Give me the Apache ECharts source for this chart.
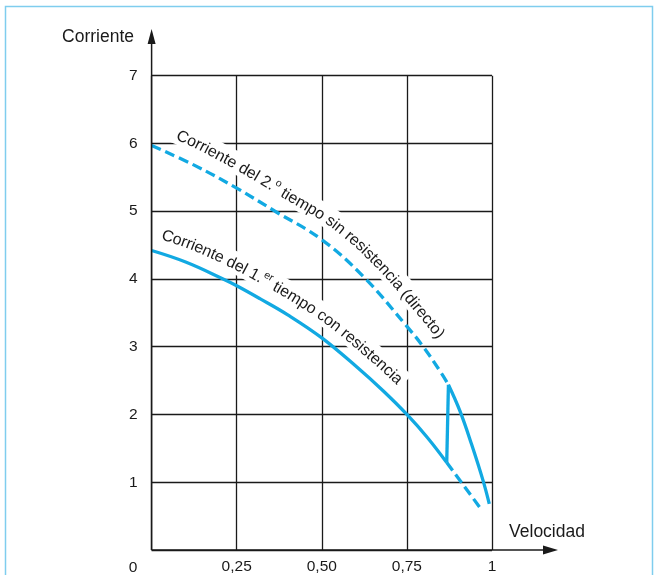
<!DOCTYPE html>
<html><head><meta charset="utf-8">
<script src="https://cdn.jsdelivr.net/npm/echarts@6/dist/echarts.min.js"></script>
<style>html,body{margin:0;padding:0;background:#fff}#c{width:658px;height:575px}</style>
</head><body><div id="c"></div>
<script>
// ---- data ----
const xTicks = [0, 0.25, 0.5, 0.75, 1];
const xTickLabels = ['0', '0,25', '0,50', '0,75', '1'];
const yTicks = [0, 1, 2, 3, 4, 5, 6, 7];
const yTickLabels = ['0', '1', '2', '3', '4', '5', '6', '7'];
const xName = 'Velocidad';
const yName = 'Corriente';
// Corriente del 1.er tiempo con resistencia (solid)
const curve1X = [0, 0.1, 0.21, 0.25, 0.318, 0.4, 0.5, 0.603, 0.68, 0.75, 0.81, 0.867];
const curve1Y = [4.42, 4.25, 4.0, 3.9, 3.71, 3.47, 3.13, 2.70, 2.35, 2.0, 1.66, 1.29];
// continuation of curve 1 (dashed)
const curve1ExtX = [0.867, 0.92, 0.967];
const curve1ExtY = [1.29, 0.93, 0.61];
// switching step (solid)
const jumpX = [0.867, 0.872];
const jumpY = [1.29, 2.44];
// Corriente del 2.º tiempo sin resistencia (dashed part)
const curve2X = [0, 0.125, 0.25, 0.3625, 0.5, 0.625, 0.75, 0.798, 0.85, 0.872];
const curve2Y = [5.97, 5.68, 5.34, 5.0, 4.58, 4.02, 3.30, 3.0, 2.62, 2.44];
// 2nd time after switching (solid)
const curve2EndX = [0.872, 0.906, 0.94, 0.974, 0.992];
const curve2EndY = [2.44, 2.05, 1.56, 1.02, 0.68];
// curve labels: [text, superscript?]
const label1Parts = [['Corriente del 2.', false], ['o', true], [' tiempo sin resistencia (directo)', false]];
const label2Parts = [['Corriente del 1.', false], ['er', true], [' tiempo con resistencia', false]];

const BLUE = '#12a9e2';
const INK = '#1a1a1a';
const FONT = '"Liberation Sans", Arial, sans-serif';

const chart = echarts.init(document.getElementById('c'), null, {renderer: 'canvas'});
const zip = (xs, ys) => xs.map((x, i) => [x, ys[i]]);

chart.setOption({
  animation: false,
  backgroundColor: '#fff',
  grid: {left: 151.6, top: 75.7, right: 166, bottom: 24, containLabel: false},
  xAxis: {
    type: 'value', min: 0, max: 1, interval: 0.25,
    axisLine: {show: false}, axisTick: {show: false},
    splitLine: {show: true, lineStyle: {color: INK, width: 1.3}},
    axisLabel: {
      margin: 9, color: INK, fontSize: 15.5, fontFamily: FONT,
      formatter: v => { const i = xTicks.findIndex(t => Math.abs(t - v) < 1e-9); return i > 0 ? xTickLabels[i] : ''; }
    }
  },
  yAxis: {
    type: 'value', min: 0, max: 7, interval: 1,
    axisLine: {show: false}, axisTick: {show: false},
    splitLine: {show: true, lineStyle: {color: INK, width: 1.3}},
    axisLabel: {
      margin: 14, color: INK, fontSize: 15.5, fontFamily: FONT,
      formatter: v => { const i = yTicks.indexOf(v); return i > 0 ? yTickLabels[i] : ''; }
    }
  },
  series: [
    {type: 'line', data: zip(curve1X, curve1Y), smooth: 0.4, symbol: 'none', lineStyle: {color: BLUE, width: 3.3}, z: 3},
    {type: 'line', data: zip(curve1ExtX, curve1ExtY), smooth: 0.4, symbol: 'none', lineStyle: {color: BLUE, width: 3.3, type: [10, 5]}, z: 3},
    {type: 'line', data: zip(jumpX, jumpY), smooth: false, symbol: 'none', lineStyle: {color: BLUE, width: 3.3}, z: 3},
    {type: 'line', data: zip(curve2X, curve2Y), smooth: 0.4, symbol: 'none', lineStyle: {color: BLUE, width: 3.3, type: [10, 5]}, z: 3},
    {type: 'line', data: zip(curve2EndX, curve2EndY), smooth: 0.4, symbol: 'none', lineStyle: {color: BLUE, width: 3.3}, z: 3}
  ]
});

// ---- helpers for text along a curve ----
const px = (x, y) => chart.convertToPixel({gridIndex: 0}, [x, y]);
function buildPath(xs, ys) {
  const p = xs.map((x, i) => px(x, ys[i]));
  const out = [];
  for (let i = 0; i < p.length - 1; i++) {
    const p0 = p[Math.max(i - 1, 0)], p1 = p[i], p2 = p[i + 1], p3 = p[Math.min(i + 2, p.length - 1)];
    for (let k = 0; k < 20; k++) {
      const t = k / 20, t2 = t * t, t3 = t2 * t;
      const f = j => 0.5 * (2 * p1[j] + (-p0[j] + p2[j]) * t + (2 * p0[j] - 5 * p1[j] + 4 * p2[j] - p3[j]) * t2 + (-p0[j] + 3 * p1[j] - 3 * p2[j] + p3[j]) * t3);
      out.push([f(0), f(1)]);
    }
  }
  out.push(p[p.length - 1]);
  return out;
}
function offsetPath(pts, d) {
  return pts.map((q, i) => {
    const a = pts[Math.max(i - 2, 0)], b = pts[Math.min(i + 2, pts.length - 1)];
    let tx = b[0] - a[0], ty = b[1] - a[1];
    const L = Math.hypot(tx, ty) || 1; tx /= L; ty /= L;
    return [q[0] + ty * d, q[1] - tx * d];
  });
}
function arc(pts) {
  const cum = [0];
  for (let i = 1; i < pts.length; i++) cum.push(cum[i - 1] + Math.hypot(pts[i][0] - pts[i - 1][0], pts[i][1] - pts[i - 1][1]));
  const at = s => {
    if (s <= 0) { const a = pts[0], b = pts[1], L = cum[1]; return [a[0] + (b[0] - a[0]) * s / L, a[1] + (b[1] - a[1]) * s / L]; }
    const n = pts.length - 1;
    if (s >= cum[n]) { const a = pts[n - 1], b = pts[n], L = cum[n] - cum[n - 1]; const e = s - cum[n - 1]; return [a[0] + (b[0] - a[0]) * e / L, a[1] + (b[1] - a[1]) * e / L]; }
    let i = 1; while (cum[i] < s) i++;
    const a = pts[i - 1], b = pts[i], r = (s - cum[i - 1]) / (cum[i] - cum[i - 1]);
    return [a[0] + (b[0] - a[0]) * r, a[1] + (b[1] - a[1]) * r];
  };
  return {cum, at};
}
const ctx = document.createElement('canvas').getContext('2d');
function measure(t, size) { ctx.font = size + 'px ' + FONT; return ctx.measureText(t).width; }

function textOnCurve(xs, ys, offset, startX, parts, size, supSize, supRaise, els) {
  const path = offsetPath(buildPath(xs, ys), offset);
  const A = arc(path);
  let s = 0;
  for (let i = 1; i < path.length; i++) {
    if (path[i][0] >= startX) { const r = (startX - path[i - 1][0]) / (path[i][0] - path[i - 1][0]); s = A.cum[i - 1] + r * (A.cum[i] - A.cum[i - 1]); break; }
  }
  const s0 = s;
  parts.forEach(([txt, sup]) => {
    const fs = sup ? supSize : size;
    for (const ch of txt) {
      const w = measure(ch, fs);
      const c = s + w / 2;
      const p = A.at(c), pa = A.at(c - 7), pb = A.at(c + 7);
      const th = Math.atan2(pb[1] - pa[1], pb[0] - pa[0]);
      const r = sup ? supRaise : 0;
      if (ch !== ' ') {
        els.push({
          type: 'text', x: p[0] + Math.sin(th) * r, y: p[1] - Math.cos(th) * r, rotation: -th, z: 20,
          style: {text: ch, font: fs + 'px ' + FONT, fill: INK, textAlign: 'center', textVerticalAlign: 'middle', align: 'center', verticalAlign: 'middle'}
        });
      }
      s += w;
    }
  });
  const band = [];
  for (let t = s0 - 4; t <= s + 4; t += 2) band.push(A.at(t));
  const bandPath = offsetPath(band, 2);
  els.unshift({type: 'polyline', z: 1, shape: {points: bandPath}, style: {stroke: '#fff', lineWidth: 22, fill: null, lineCap: 'butt', lineJoin: 'round'}});
}

const els = [];
textOnCurve(curve2X, curve2Y, 20, 177, label1Parts, 16, 10.5, 5.5, els);
textOnCurve(curve1X, curve1Y, 18, 162, label2Parts, 16, 10.5, 5.5, els);

const o = px(0, 0);
els.push(
  {type: 'rect', z: 30, shape: {x: 5.5, y: 6.5, width: 647, height: 620}, style: {fill: null, stroke: '#7fcdee', lineWidth: 1.5}},
  {type: 'line', z: 10, shape: {x1: o[0], y1: o[1], x2: 548, y2: o[1]}, style: {stroke: INK, lineWidth: 1.5}},
  {type: 'polygon', z: 10, shape: {points: [[558, o[1]], [543, o[1] - 4.5], [543, o[1] + 4.5]]}, style: {fill: INK}},
  {type: 'line', z: 10, shape: {x1: o[0], y1: o[1], x2: o[0], y2: 40}, style: {stroke: INK, lineWidth: 1.5}},
  {type: 'polygon', z: 10, shape: {points: [[o[0], 29], [o[0] - 4, 44], [o[0] + 4, 44]]}, style: {fill: INK}},
  {type: 'text', z: 10, x: 133, y: 568, style: {text: xTickLabels[0], font: '15.5px ' + FONT, fill: INK, textAlign: 'center', textVerticalAlign: 'middle', align: 'center', verticalAlign: 'middle'}},
  {type: 'text', z: 10, x: 134, y: 37, style: {text: yName, font: '17.5px ' + FONT, fill: INK, textAlign: 'right', textVerticalAlign: 'middle', align: 'right', verticalAlign: 'middle'}},
  {type: 'text', z: 10, x: 547, y: 532, style: {text: xName, font: '17.5px ' + FONT, fill: INK, textAlign: 'center', textVerticalAlign: 'middle', align: 'center', verticalAlign: 'middle'}}
);
chart.setOption({graphic: {elements: els}});
</script></body></html>
